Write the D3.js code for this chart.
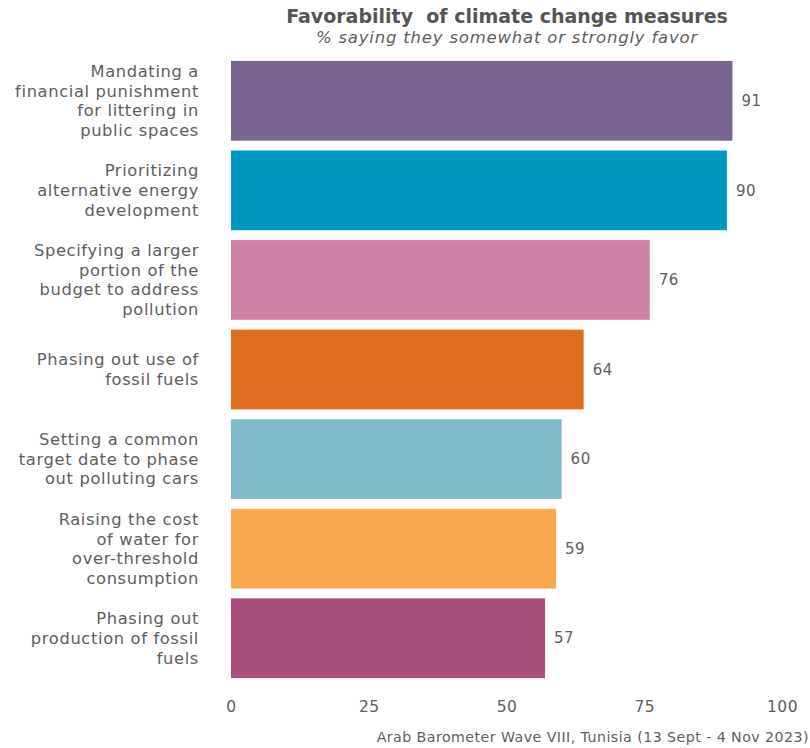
<!DOCTYPE html>
<html><head><meta charset="utf-8">
<script src="https://cdn.jsdelivr.net/npm/d3@7"></script>
<style>body{margin:0;background:#fff}svg{display:block}</style>
</head><body>
<svg id="c" width="810" height="748"></svg>
<script>
const categories = [
  "Mandating a|financial punishment|for littering in|public spaces",
  "Prioritizing|alternative energy|development",
  "Specifying a larger|portion of the|budget to address|pollution",
  "Phasing out use of|fossil fuels",
  "Setting a common|target date to phase|out polluting cars",
  "Raising the cost|of water for|over-threshold|consumption",
  "Phasing out|production of fossil|fuels"
];
const values = [91, 90, 76, 64, 60, 59, 57];
const colors = ["#7a6490", "#0098c0", "#cf82a3", "#e06e20", "#80bac9", "#f9a94f", "#a84f7d"];
const ticks = [0, 25, 50, 75, 100];

const font = "'DejaVu Sans', sans-serif";
const svg = d3.select("#c");
const x = d3.scaleLinear().domain([0, 100]).range([231, 782]);
const y = d3.scaleBand().domain(categories).range([56, 683]).paddingInner(0.11).paddingOuter(0.055);

svg.selectAll("rect.bar").data(values).join("rect")
  .attr("x", x(0)).attr("y", (d, i) => y(categories[i]))
  .attr("width", d => x(d) - x(0)).attr("height", y.bandwidth())
  .attr("fill", (d, i) => colors[i]);

svg.selectAll("text.val").data(values).join("text")
  .attr("x", d => x(d) + 9).attr("y", (d, i) => y(categories[i]) + y.bandwidth() / 2)
  .attr("dy", "0.35em").attr("font-family", font).attr("font-size", 15).attr("letter-spacing", 0.5)
  .attr("fill", "#5e5e5e").text(d => d);

// category labels
categories.forEach((c, i) => {
  const lines = c.split("|");
  const lh = 19.6;
  const cy = y(c) + y.bandwidth() / 2;
  const t = svg.append("text").attr("text-anchor", "end").attr("font-family", font)
    .attr("font-size", 16.3).attr("letter-spacing", 0.65).attr("fill", "#5e5e5e");
  lines.forEach((l, k) => {
    t.append("tspan").attr("x", 199)
      .attr("y", cy + (k - (lines.length - 1) / 2) * lh).attr("dy", "0.35em").text(l);
  });
});

// x axis
const ax = svg.append("g").attr("transform", "translate(0,701)")
  .call(d3.axisBottom(x).tickValues(ticks).tickSize(0).tickPadding(0));
ax.select(".domain").remove();
ax.selectAll("text").attr("font-family", font).attr("font-size", 15.5).attr("letter-spacing", 0.5).attr("fill", "#5e5e5e").attr("dy", "0.71em");

// title
svg.append("text").attr("x", 507).attr("y", 23).attr("text-anchor", "middle")
  .attr("font-family", font).attr("font-weight", "bold").attr("font-size", 19)
  .attr("fill", "#555").style("white-space", "pre").text("Favorability  of climate change measures");
svg.append("text").attr("x", 507).attr("y", 43).attr("text-anchor", "middle")
  .attr("font-family", font).attr("font-style", "italic").attr("font-size", 16.5).attr("letter-spacing", 0.8)
  .attr("fill", "#5e5e5e").text("% saying they somewhat or strongly favor");

svg.append("text").attr("x", 809).attr("y", 742).attr("text-anchor", "end")
  .attr("font-family", font).attr("font-size", 14.2).attr("letter-spacing", 0.45).attr("fill", "#5e5e5e")
  .text("Arab Barometer Wave VIII, Tunisia (13 Sept - 4 Nov 2023)");
</script>
</body></html>
